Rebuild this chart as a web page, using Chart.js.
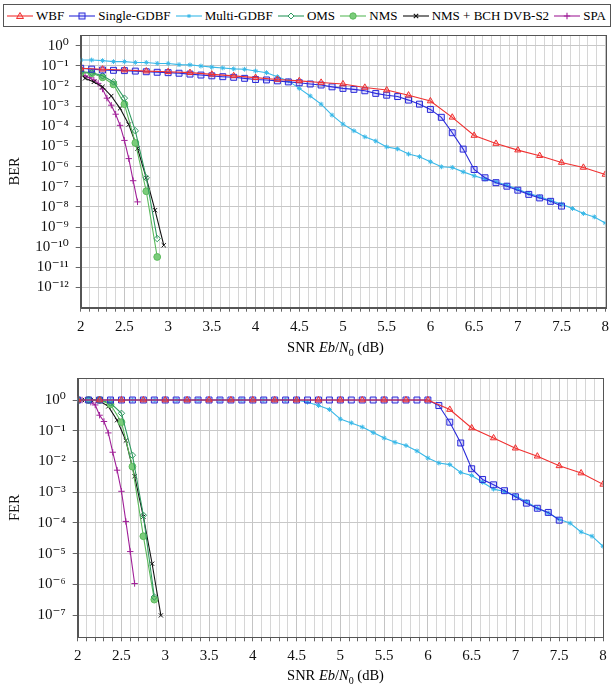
<!DOCTYPE html>
<html><head><meta charset="utf-8">
<script src="https://cdn.jsdelivr.net/npm/chart.js@4"></script>
<style>
body{margin:0;width:615px;height:687px;position:relative;background:#fff;overflow:hidden;font-family:'Liberation Serif','Times New Roman',Times,'DejaVu Serif',serif;}
#legend{position:absolute;left:3px;top:4px;width:608px;height:23px;border:1px solid #555;box-sizing:border-box;display:flex;align-items:center;justify-content:space-between;font-size:13px;white-space:nowrap;z-index:2;background:#fff;padding:0 4px 0 3px}
#legend .it{display:flex;align-items:center}
#legend svg{margin-right:3px}
.xt{position:absolute;font-size:14.5px;width:615px;text-align:center;white-space:nowrap}
</style></head>
<body>
<div id="legend"></div>
<div style="position:absolute;left:0;top:0;width:615px;height:362px"><canvas id="c1"></canvas></div>
<div style="position:absolute;left:0;top:362px;width:615px;height:325px"><canvas id="c2"></canvas></div>
<div class="xt" id="xt1" style="top:339px;left:28px">SNR <i>Eb</i>/<i>N</i><sub style="font-size:10px">0</sub> (dB)</div>
<div class="xt" id="xt2" style="top:667px;left:28px">SNR <i>Eb</i>/<i>N</i><sub style="font-size:10px">0</sub> (dB)</div>
<script>
// ---------- data ----------
const seriesNames = ['WBF','Single-GDBF','Multi-GDBF','OMS','NMS','NMS + BCH DVB-S2','SPA'];
const snrStep125 = [2,2.125,2.25,2.375,2.5,2.625,2.75,2.875,3,3.125,3.25,3.375,3.5,3.625,3.75,3.875,4,4.125,4.25,4.375,4.5,4.625,4.75,4.875,5,5.125,5.25,5.375,5.5,5.625,5.75,5.875,6,6.125,6.25,6.375,6.5,6.625,6.75,6.875,7,7.125,7.25,7.375,7.5,7.625,7.75,7.875,8];
const snrStep25 = [2,2.25,2.5,2.75,3,3.25,3.5,3.75,4,4.25,4.5,4.75,5,5.25,5.5,5.75,6,6.25,6.5,6.75,7,7.25,7.5,7.75,8];
const snrMinSum = [2,2.125,2.25,2.375,2.5,2.625,2.75,2.875];
const snrBch = [2,2.05,2.15,2.25,2.35,2.45,2.55,2.65,2.75,2.85,2.95];
const snrSpa = [2,2.05,2.1,2.15,2.2,2.25,2.3,2.35,2.4,2.45,2.5,2.55,2.6,2.65];

// BER
const berWbf = [7.6e-2,6.8e-2,6.2e-2,5.5e-2,5.1e-2,4.6e-2,3.8e-2,3.2e-2,2.6e-2,2.1e-2,1.8e-2,1.5e-2,1.26e-2,8.5e-3,6.3e-3,3.5e-3,1.8e-3,2.8e-4,3.5e-5,1.4e-5,6.6e-6,3.5e-6,1.6e-6,9.1e-7,4.1e-7];
const berSingle = [7.6e-2,6.9e-2,6.2e-2,6.0e-2,5.8e-2,5.5e-2,5.1e-2,4.8e-2,4.6e-2,4.3e-2,3.9e-2,3.5e-2,3.2e-2,2.9e-2,2.7e-2,2.4e-2,2.1e-2,2.0e-2,1.8e-2,1.6e-2,1.45e-2,1.26e-2,1.12e-2,9.1e-3,7.6e-3,6.8e-3,5.8e-3,4.3e-3,3.5e-3,3.0e-3,2.0e-3,1.26e-3,6.9e-4,2.8e-4,4.8e-5,7.4e-6,7.2e-7,2.8e-7,1.6e-7,1.07e-7,6.8e-8,4.2e-8,2.8e-8,1.9e-8,1.1e-8];
const berMulti = [0.195,0.195,0.182,0.162,0.162,0.148,0.148,0.132,0.132,0.115,0.112,9.8e-2,8.7e-2,7.9e-2,7.1e-2,6.8e-2,5.6e-2,4.6e-2,2.9e-2,1.8e-2,7.6e-3,3.2e-3,1.26e-3,3.6e-4,1.29e-4,6.0e-5,3.0e-5,1.86e-5,9.5e-6,7.6e-6,4.2e-6,3.1e-6,1.74e-6,9.8e-7,9.1e-7,5.5e-7,3.5e-7,2.4e-7,1.78e-7,1.2e-7,7.6e-8,4.7e-8,3.2e-8,2.1e-8,1.38e-8,8.3e-9,4.7e-9,3.2e-9,1.6e-9];
const berOms = [5.1e-2,4.6e-2,3.2e-2,1.6e-2,2.5e-3,6.0e-5,2.8e-7,2.7e-10];
const berNms = [4.6e-2,4.3e-2,2.7e-2,1.2e-2,1.26e-3,1.5e-5,6.0e-8,3.3e-11];
const berBch = [4.4e-2,2.4e-2,1.6e-2,9.1e-3,3.2e-3,7.8e-4,1.23e-4,7.9e-6,2.75e-7,6.9e-9,1.26e-10];
const berSpa = [3.5e-2,3.2e-2,2.6e-2,2.0e-2,1.35e-2,7.1e-3,2.5e-3,1.12e-3,4.0e-4,1.12e-4,2.0e-5,2.5e-6,2.0e-7,1.78e-8];

// FER
const ferWbf = [1,1,1,1,1,1,1,1,1,1,1,1,1,1,1,1,1,0.49,0.123,5.8e-2,2.7e-2,1.48e-2,7.2e-3,4.2e-3,1.8e-3];
const ferSingle = [1,1,1,1,1,1,1,1,1,1,1,1,1,1,1,1,1,1,1,1,1,1,1,1,1,1,1,1,1,1,1,1,1,0.66,0.19,4.0e-2,5.8e-3,2.6e-3,1.74e-3,1.12e-3,7.1e-4,4.4e-4,3.0e-4,2.2e-4,1.23e-4];
const ferMulti = [1,1,1,1,1,1,1,1,1,1,1,1,1,1,1,1,1,1,1,1,1,0.85,0.66,0.49,0.24,0.18,0.132,8.7e-2,5.8e-2,4.2e-2,3.3e-2,2.2e-2,1.29e-2,8.9e-3,7.9e-3,4.4e-3,3.5e-3,2.1e-3,1.26e-3,1.05e-3,7.6e-4,4.9e-4,3.0e-4,2.1e-4,1.32e-4,9.8e-5,5.1e-5,3.7e-5,1.74e-5];
const ferOms = [1,1,1,0.8,0.37,1.6e-2,1.78e-4,3.9e-7];
const ferNms = [1,1,1,0.72,0.19,6.8e-3,3.7e-5,3.2e-7];
const ferBch = [1,1,1,0.93,0.62,0.22,4.8e-2,3.3e-3,1.6e-4,4.7e-6,9.8e-8];
const ferSpa = [1,1,1,0.85,0.69,0.32,0.20,8.5e-2,2.0e-2,5.2e-3,1.07e-3,1.12e-4,1.17e-5,1.07e-6];

// ticks
const snrTickValues = [2,2.5,3,3.5,4,4.5,5,5.5,6,6.5,7,7.5,8];
const snrTickLabels = ['2','2.5','3','3.5','4','4.5','5','5.5','6','6.5','7','7.5','8'];
const berTicks = [1,1e-1,1e-2,1e-3,1e-4,1e-5,1e-6,1e-7,1e-8,1e-9,1e-10,1e-11,1e-12];
const berTickLabels = ['10⁰','10⁻¹','10⁻²','10⁻³','10⁻⁴','10⁻⁵','10⁻⁶','10⁻⁷','10⁻⁸','10⁻⁹','10⁻¹⁰','10⁻¹¹','10⁻¹²'];
const ferTicks = [1,1e-1,1e-2,1e-3,1e-4,1e-5,1e-6,1e-7];
const ferTickLabels = ['10⁰','10⁻¹','10⁻²','10⁻³','10⁻⁴','10⁻⁵','10⁻⁶','10⁻⁷'];

// ---------- styles ----------
const styles = [
  {color:'#f03030', fill:'rgba(255,60,60,0.18)', point:'triangle', r:3.6},
  {color:'#2a2ad8', fill:'rgba(60,60,255,0.15)', point:'rect', r:4.2},
  {color:'#38b8e8', fill:'#38b8e8', point:'star', r:2.4},
  {color:'#2f9a60', fill:'rgba(255,255,255,0)', point:'rectRot', r:3.2},
  {color:'#5cba5c', fill:'#7acc7a', point:'circle', r:3.4},
  {color:'#111111', fill:'#111111', point:'crossRot', r:3},
  {color:'#a02098', fill:'#a02098', point:'cross', r:3.2}
];

function pts(xs, ys){ return ys.map((y,i)=>({x:xs[i], y:y})); }
function ds(i, xs, ys){
  const s = styles[i];
  return {label:seriesNames[i], data:pts(xs,ys), borderColor:s.color, backgroundColor:s.fill,
    pointBorderColor:s.color, pointBackgroundColor:s.fill, pointStyle:s.point, pointRadius:s.r,
    pointBorderWidth:1, borderWidth:1.1, tension:0, fill:false};
}

Chart.defaults.font.family = "'Liberation Serif','Times New Roman',Times,'DejaVu Serif',serif";
Chart.defaults.color = '#111';

const framePlugin = {id:'frame', afterDraw(chart){
  const {ctx, chartArea:a} = chart; ctx.save(); ctx.strokeStyle='#555'; ctx.lineWidth=1;
  ctx.strokeRect(Math.round(a.left)+0.5, Math.round(a.top)+0.5, Math.round(a.right-a.left), Math.round(a.bottom-a.top));
  ctx.restore();
}};

function makeChart(id, datasets, o){
  return new Chart(document.getElementById(id), {
    type:'line',
    data:{datasets},
    plugins:[framePlugin],
    options:{
      responsive:true, maintainAspectRatio:false, animation:false, devicePixelRatio:1,
      layout:{padding:{top:o.top, right:o.right, left:0, bottom:0}},
      plugins:{legend:{display:false}, tooltip:{enabled:false}},
      scales:{
        x:{type:'linear', min:2, max:8,
          afterFit(s){ s.height = o.xh; },
          ticks:{stepSize:0.1, autoSkip:false, maxRotation:0, padding:o.xpad, font:{size:15}, color:'#111',
            callback(v){ const k = snrTickValues.findIndex(t=>Math.abs(t-v)<1e-6); return k>=0 ? snrTickLabels[k] : ''; }},
          grid:{color(c){ const v=c.tick&&c.tick.value; return (v!==undefined && Math.abs(v*2-Math.round(v*2))<1e-6) ? '#c4c4c4' : '#d6d6d6'; },
            lineWidth:1, drawTicks:true, tickLength:4, tickColor:'#666'},
          border:{display:true, color:'#555'}
        },
        y:{type:'logarithmic', min:o.ymin, max:o.ymax, bounds:'data',
          afterFit(s){ s.width = o.yw; },
          afterBuildTicks(s){ s.ticks = o.ticks.map(v=>({value:v, major:true})); },
          ticks:{autoSkip:false, padding:7, font:{size:15}, color:'#111',
            callback(v){ const k = o.ticks.findIndex(t=>Math.abs(Math.log10(t)-Math.log10(v))<1e-6); return k>=0 ? o.labels[k] : ''; }},
          grid:{color:'#c8c8c8', lineWidth:1, drawTicks:true, tickLength:5, tickColor:'#666'},
          border:{display:true, color:'#555'},
          title:{display:true, text:o.title, font:{size:14.5}, color:'#111', padding:{top:6, bottom:0}}
        }
      }
    }
  });
}

makeChart('c1', [
  ds(0, snrStep25, berWbf), ds(1, snrStep125, berSingle), ds(2, snrStep125, berMulti),
  ds(3, snrMinSum, berOms), ds(4, snrMinSum, berNms), ds(5, snrBch, berBch), ds(6, snrSpa, berSpa)
], {top:35, right:8.5, xh:54.3, xpad:6, yw:80.7, ymin:1e-13, ymax:3.4, ticks:berTicks, labels:berTickLabels, title:'BER'});

makeChart('c2', [
  ds(0, snrStep25, ferWbf), ds(1, snrStep125, ferSingle), ds(2, snrStep125, ferMulti),
  ds(3, snrMinSum, ferOms), ds(4, snrMinSum, ferNms), ds(5, snrBch, ferBch), ds(6, snrSpa, ferSpa)
], {top:3, right:12, xh:49.7, xpad:6, yw:77.7, ymin:1.9e-8, ymax:5.2, ticks:ferTicks, labels:ferTickLabels, title:'FER'});

// ---------- legend (HTML) ----------
function markerSvg(s){
  const c=s.color, f=s.fill; let m='';
  if(s.point==='triangle') m=`<polygon points="13,1.5 16.5,7.5 9.5,7.5" fill="${f}" stroke="${c}" stroke-width="1"/>`;
  else if(s.point==='rect') m=`<rect x="10" y="2" width="6" height="6" fill="${f}" stroke="${c}" stroke-width="1"/>`;
  else if(s.point==='star') m=`<path d="M13,3V7M11.2,4L14.8,6M14.8,4L11.2,6" stroke="${c}" stroke-width="1"/>`;
  else if(s.point==='rectRot') m=`<polygon points="13,2 16,5 13,8 10,5" fill="#fff" stroke="${c}" stroke-width="1"/>`;
  else if(s.point==='circle') m=`<circle cx="13" cy="5" r="3.2" fill="${f}" stroke="${c}" stroke-width="1"/>`;
  else if(s.point==='crossRot') m=`<path d="M10.8,2.8L15.2,7.2M15.2,2.8L10.8,7.2" stroke="${c}" stroke-width="1.1"/>`;
  else if(s.point==='cross') m=`<path d="M13,1.8V8.2M9.8,5H16.2" stroke="${c}" stroke-width="1.1"/>`;
  return `<svg width="26" height="10" viewBox="0 0 26 10"><line x1="0" y1="5" x2="26" y2="5" stroke="${c}" stroke-width="1.1"/>${m}</svg>`;
}
const lg = document.getElementById('legend');
seriesNames.forEach((n,i)=>{
  const d=document.createElement('span'); d.className='it';
  d.innerHTML = markerSvg(styles[i]) + '<span>'+n+'</span>';
  lg.appendChild(d);
});
</script>
</body></html>
